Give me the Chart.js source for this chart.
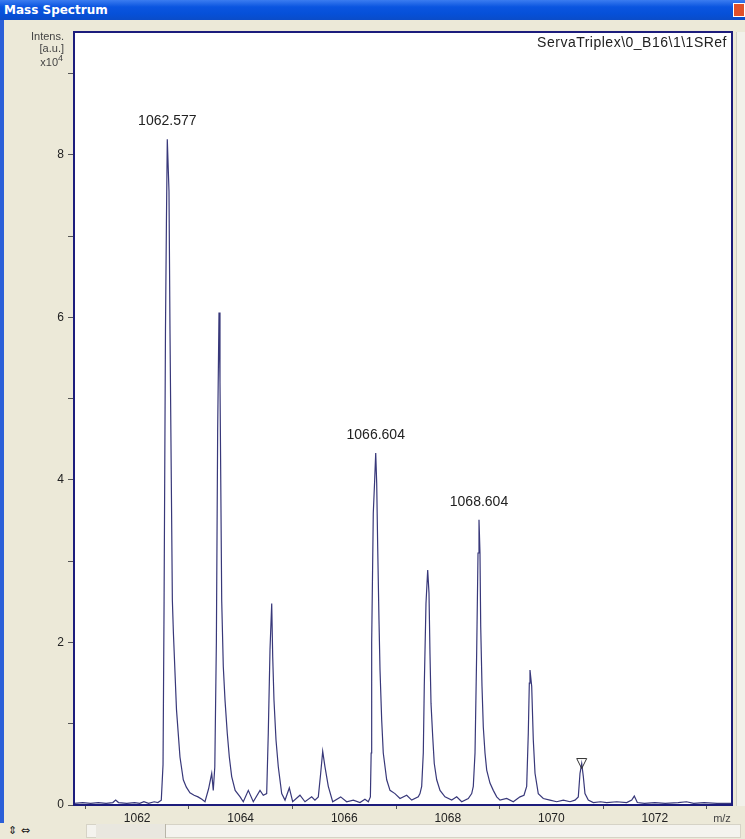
<!DOCTYPE html>
<html>
<head>
<meta charset="utf-8">
<script src="https://cdn.jsdelivr.net/npm/chart.js@4.4.0/dist/chart.umd.min.js"></script>
<style>
  html, body { margin: 0; padding: 0; }
  body { width: 745px; height: 839px; position: relative; overflow: hidden; background: #ece9d8; }
  #chart { position: absolute; left: 0; top: 0; }
  #titlebar { position: absolute; left: 0; top: 0; width: 745px; height: 20px; z-index: 2;
    background: linear-gradient(#3b7cf0, #0a55e0 35%, #0650d8 70%, #0a4cc8);
    color: #fff; font: bold 12px Tahoma, "DejaVu Sans", sans-serif; line-height: 20px; padding-left: 4px; box-sizing: border-box; }
  #close { position: absolute; right: 0; top: 3px; width: 12px; height: 14px; background: #e0502a; border: 1px solid #fff; box-sizing: border-box; }
  #leftedge { position: absolute; left: 0; top: 20px; width: 4px; height: 819px; background: #2a5fd8; z-index: 2; }
  #vscroll { position: absolute; left: 736px; top: 32px; width: 9px; height: 774px; background: #f2f1ea; border-left: 1px solid #d0cfc6; z-index: 2; }
  #hscroll { position: absolute; left: 0; top: 823px; width: 745px; height: 16px; background: #ece9d8; z-index: 2;
    font: 11px "DejaVu Sans", sans-serif; color: #222; }
  #track { position: absolute; left: 86px; top: 1px; width: 655px; height: 14px; background: #f4f3ee; border: 1px solid #d6d3c6; box-sizing: border-box; }
  #thumb { position: absolute; left: 96px; top: 1px; width: 70px; height: 14px; background: #e9e7df; border-right: 1px solid #b8b5a8; box-sizing: border-box; }
</style>
</head>
<body>
<div id="titlebar">Mass Spectrum<div id="close"></div></div>
<div id="leftedge"></div>
<div id="vscroll"></div>
<div id="hscroll"><span style="position:absolute;left:8px;top:1px">&#8661; &#8660;</span><div id="track"></div><div id="thumb"></div></div>
<canvas id="chart" width="745" height="839"></canvas>
<script>
// spectrum: m/z and intensity (x10^4 a.u.)
const mz = [
  1060.78, 1060.95, 1061.10, 1061.25, 1061.40, 1061.53, 1061.585, 1061.64, 1061.80, 1061.95,
  1062.05, 1062.13, 1062.22, 1062.33, 1062.40, 1062.466, 1062.50, 1062.52, 1062.547, 1062.565,
  1062.582, 1062.615, 1062.634, 1062.68, 1062.70, 1062.76, 1062.827, 1062.891, 1062.95, 1063.02,
  1063.10, 1063.175, 1063.25, 1063.31, 1063.38, 1063.44, 1063.47, 1063.50, 1063.53, 1063.555,
  1063.581, 1063.60, 1063.633, 1063.664, 1063.697, 1063.741, 1063.78, 1063.826, 1063.893, 1063.989,
  1064.05, 1064.147, 1064.243, 1064.373, 1064.436, 1064.502, 1064.533, 1064.566, 1064.599, 1064.618,
  1064.643, 1064.682, 1064.726, 1064.792, 1064.856, 1064.939, 1065.004, 1065.145, 1065.242, 1065.371,
  1065.434, 1065.499, 1065.545, 1065.584, 1065.628, 1065.692, 1065.777, 1065.931, 1066.047, 1066.175,
  1066.304, 1066.40, 1066.465, 1066.505, 1066.52, 1066.53, 1066.561, 1066.588, 1066.608, 1066.627,
  1066.646, 1066.671, 1066.691, 1066.723, 1066.754, 1066.82, 1066.884, 1066.98, 1067.077, 1067.206,
  1067.303, 1067.43, 1067.463, 1067.496, 1067.527, 1067.546, 1067.579, 1067.612, 1067.637, 1067.656,
  1067.676, 1067.709, 1067.739, 1067.786, 1067.85, 1067.946, 1068.076, 1068.172, 1068.269, 1068.396,
  1068.462, 1068.493, 1068.526, 1068.558, 1068.584, 1068.603, 1068.622, 1068.636, 1068.661, 1068.686,
  1068.719, 1068.752, 1068.815, 1068.879, 1068.945, 1069.009, 1069.138, 1069.265, 1069.395, 1069.472,
  1069.524, 1069.555, 1069.575, 1069.588, 1069.621, 1069.652, 1069.685, 1069.748, 1069.845, 1069.974,
  1070.104, 1070.231, 1070.361, 1070.457, 1070.521, 1070.554, 1070.587, 1070.618, 1070.65, 1070.714,
  1070.811, 1070.95, 1071.07, 1071.263, 1071.456, 1071.553, 1071.603, 1071.661, 1071.80, 1072.00,
  1072.20, 1072.45, 1072.61, 1072.75, 1072.95, 1073.20, 1073.49
];
const intensity = [
  0.02, 0.03, 0.02, 0.03, 0.02, 0.03, 0.06, 0.03, 0.02, 0.03,
  0.02, 0.04, 0.02, 0.04, 0.03, 0.06, 0.50, 2.50, 5.85, 7.15,
  8.19, 7.55, 5.85, 2.52, 2.12, 1.17, 0.59, 0.31, 0.22, 0.15,
  0.12, 0.10, 0.07, 0.04, 0.20, 0.39, 0.18, 0.47, 2.00, 4.60,
  6.06, 5.20, 2.52, 1.70, 1.29, 0.88, 0.59, 0.35, 0.18, 0.10,
  0.04, 0.18, 0.04, 0.18, 0.12, 0.14, 0.89, 1.91, 2.48, 1.83,
  1.29, 0.80, 0.47, 0.14, 0.06, 0.21, 0.04, 0.12, 0.04, 0.10,
  0.06, 0.10, 0.39, 0.66, 0.47, 0.23, 0.04, 0.10, 0.04, 0.06,
  0.03, 0.07, 0.04, 0.10, 0.64, 2.00, 3.59, 4.00, 4.33, 3.96,
  3.18, 2.28, 1.66, 1.05, 0.64, 0.31, 0.18, 0.14, 0.08, 0.12,
  0.06, 0.10, 0.14, 0.23, 0.64, 1.46, 2.48, 2.89, 2.61, 1.87,
  1.25, 0.84, 0.51, 0.31, 0.18, 0.10, 0.06, 0.10, 0.04, 0.08,
  0.14, 0.23, 0.64, 1.87, 3.10, 3.51, 3.10, 2.20, 1.46, 0.96,
  0.64, 0.43, 0.27, 0.18, 0.10, 0.06, 0.08, 0.04, 0.10, 0.12,
  0.23, 0.88, 1.50, 1.66, 1.46, 0.80, 0.39, 0.14, 0.08, 0.06,
  0.04, 0.06, 0.04, 0.06, 0.10, 0.39, 0.51, 0.35, 0.14, 0.06,
  0.03, 0.04, 0.03, 0.04, 0.03, 0.06, 0.11, 0.03, 0.02, 0.03,
  0.02, 0.03, 0.04, 0.02, 0.03, 0.02, 0.02
];
// annotated peaks
const peakLabels = ['1062.577', '1066.604', '1068.604'];
const peakLabelMz = [1062.582, 1066.608, 1068.603];
const peakLabelTop = [8.19, 4.33, 3.51];
// marked peak (open triangle)
const markerMz = 1070.587;
const markerTop = 0.51;
const yTickLabels = [0, 2, 4, 6, 8];
const xTickLabels = [1062, 1064, 1066, 1068, 1070, 1072];

const navy = '#1c1c7c';

const decorations = {
  id: 'decorations',
  beforeDraw(chart) {
    const { ctx, chartArea: a } = chart;
    ctx.save();
    ctx.fillStyle = '#ffffff';
    ctx.fillRect(a.left, a.top, a.right - a.left, a.bottom - a.top);
    ctx.restore();
  },
  afterDraw(chart) {
    const { ctx, chartArea: a, scales: { x, y } } = chart;
    ctx.save();
    ctx.strokeStyle = navy;
    ctx.lineWidth = 2;
    ctx.strokeRect(a.left, a.top, a.right - a.left, a.bottom - a.top);

    // peak labels
    ctx.fillStyle = '#222';
    ctx.font = '14px Arial, "Liberation Sans", sans-serif';
    ctx.textAlign = 'center';
    ctx.textBaseline = 'alphabetic';
    peakLabels.forEach((t, i) => {
      ctx.fillText(t, x.getPixelForValue(peakLabelMz[i]), y.getPixelForValue(peakLabelTop[i]) - 14);
    });

    // triangle marker
    const px = x.getPixelForValue(markerMz), py = y.getPixelForValue(markerTop);
    ctx.strokeStyle = '#333';
    ctx.lineWidth = 1;
    ctx.beginPath();
    ctx.moveTo(px - 5, py - 5);
    ctx.lineTo(px + 5, py - 5);
    ctx.lineTo(px, py + 5);
    ctx.closePath();
    ctx.stroke();

    // spectrum name
    ctx.textAlign = 'right';
    ctx.font = '14px Arial, "Liberation Sans", sans-serif';
    ctx.letterSpacing = '0.5px';
    ctx.fillText('ServaTriplex\\0_B16\\1\\1SRef', a.right - 5, a.top + 15);
    ctx.letterSpacing = '0px';

    // y axis title
    ctx.fillStyle = '#444';
    ctx.font = '11px Arial, "Liberation Sans", sans-serif';
    ctx.fillText('Intens.', 64, 40);
    ctx.fillText('[a.u.]', 64, 52);
    ctx.fillText('x10', 58, 66);
    ctx.font = '9px Arial, "Liberation Sans", sans-serif';
    ctx.textAlign = 'left';
    ctx.fillText('4', 58, 61);

    // x axis title
    ctx.font = '11px Arial, "Liberation Sans", sans-serif';
    ctx.textAlign = 'center';
    ctx.fillText('m/z', 722, 822);
    ctx.restore();
  }
};

new Chart(document.getElementById('chart'), {
  type: 'line',
  data: {
    datasets: [{
      data: mz.map((m, i) => ({ x: m, y: intensity[i] })),
      borderColor: '#38387a',
      borderWidth: 1.2,
      pointRadius: 0,
      tension: 0,
      fill: false
    }]
  },
  options: {
    responsive: false,
    animation: false,
    layout: { padding: { top: 32, right: 13, left: 0, bottom: 0 } },
    plugins: { legend: { display: false }, tooltip: { enabled: false } },
    scales: {
      x: {
        type: 'linear',
        min: 1060.78,
        max: 1073.49,
        border: { display: false },
        grid: {
          drawOnChartArea: false,
          tickLength: 4,
          color: c => (c.tick && Math.abs(c.tick.value % 2) === 1) ? '#555' : 'rgba(0,0,0,0)'
        },
        ticks: {
          stepSize: 1,
          includeBounds: false,
          autoSkip: false,
          maxRotation: 0,
          padding: 2,
          color: '#222',
          font: { family: 'Arial, "Liberation Sans", sans-serif', size: 12 },
          callback: v => xTickLabels.includes(v) ? String(v) : ''
        },
        afterFit: s => { s.height = 34; }
      },
      y: {
        min: 0,
        max: 9.51,
        border: { display: false },
        grid: { drawOnChartArea: false, tickLength: 6, color: '#555' },
        ticks: {
          stepSize: 1,
          includeBounds: false,
          padding: 4,
          color: '#222',
          font: { family: 'Arial, "Liberation Sans", sans-serif', size: 12 },
          callback: v => yTickLabels.includes(v) ? String(v) : ''
        },
        afterFit: s => { s.width = 74; }
      }
    }
  },
  plugins: [decorations]
});
</script>
</body>
</html>
